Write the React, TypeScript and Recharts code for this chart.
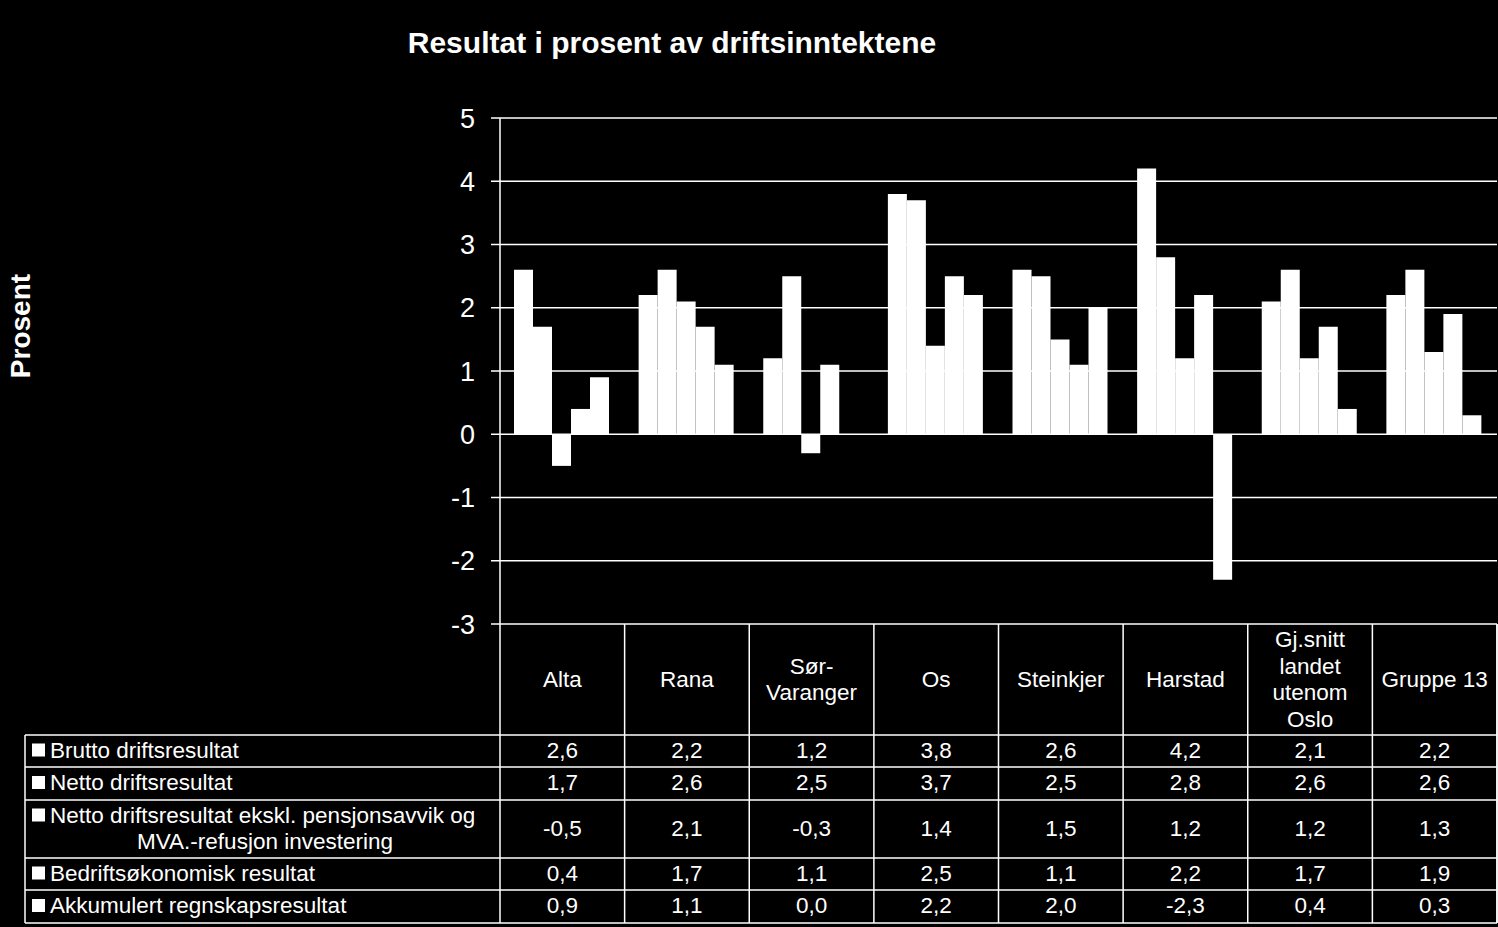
import { BarChart, Bar, XAxis, YAxis, CartesianGrid } from 'recharts';

// categories (header lines as shown in the data table)
const categories = ['Alta', 'Rana', 'Sør-Varanger', 'Os', 'Steinkjer', 'Harstad', 'Gj.snitt landet utenom Oslo', 'Gruppe 13'];
const categoryLines = [
  ['Alta'],
  ['Rana'],
  ['Sør-', 'Varanger'],
  ['Os'],
  ['Steinkjer'],
  ['Harstad'],
  ['Gj.snitt', 'landet', 'utenom', 'Oslo'],
  ['Gruppe 13'],
];

const brutto = [2.6, 2.2, 1.2, 3.8, 2.6, 4.2, 2.1, 2.2];
const netto = [1.7, 2.6, 2.5, 3.7, 2.5, 2.8, 2.6, 2.6];
const nettoEkskl = [-0.5, 2.1, -0.3, 1.4, 1.5, 1.2, 1.2, 1.3];
const bedrift = [0.4, 1.7, 1.1, 2.5, 1.1, 2.2, 1.7, 1.9];
const akkumulert = [0.9, 1.1, 0.0, 2.2, 2.0, -2.3, 0.4, 0.3];

const seriesKeys = ['brutto', 'netto', 'nettoEkskl', 'bedrift', 'akkumulert'];
const seriesNames = [
  ['Brutto driftsresultat'],
  ['Netto driftsresultat'],
  ['Netto driftsresultat ekskl. pensjonsavvik og', 'MVA.-refusjon investering'],
  ['Bedriftsøkonomisk resultat'],
  ['Akkumulert regnskapsresultat'],
];
const seriesValues = [brutto, netto, nettoEkskl, bedrift, akkumulert];

const yTicks = [-3, -2, -1, 0, 1, 2, 3, 4, 5];

const data = categories.map((name, i) => ({
  name,
  brutto: brutto[i],
  netto: netto[i],
  nettoEkskl: nettoEkskl[i],
  bedrift: bedrift[i],
  akkumulert: akkumulert[i],
}));

const W = 1498;
const H = 927;
const PLOT_LEFT = 500;
const PLOT_TOP = 118;
const PLOT_BOTTOM = 624;
const RIGHT = 1497;
const TABLE_LEFT = 25;
// data table row borders (header is PLOT_BOTTOM..rows[0])
const rowEdges = [735, 767, 800, 858, 890, 923];
const FONT = 'Arial, "Liberation Sans", sans-serif';
const TABLE_FS = 22.5;
const fmt = (v: number) => v.toFixed(1).replace('.', ',');

function fmtLabel(v: number) {
  return String(v);
}

function TableColumn(props: any) {
  const { x, index } = props;
  const colW = (RIGHT - PLOT_LEFT) / categories.length;
  const lines = categoryLines[index] || [props.payload.value];
  const headerMid = (PLOT_BOTTOM + rowEdges[0]) / 2;
  const lh = 26.5;
  const start = headerMid - ((lines.length - 1) * lh) / 2;
  return (
    <g>
      <line x1={x + colW / 2} x2={x + colW / 2} y1={PLOT_BOTTOM} y2={rowEdges[rowEdges.length - 1]} stroke="#fff" strokeWidth={1.5} />
      {lines.map((l, j) => (
        <text key={j} x={x} y={start + j * lh} textAnchor="middle" dominantBaseline="central" fill="#fff" fontSize={TABLE_FS} fontFamily={FONT}>
          {l}
        </text>
      ))}
      {seriesValues.map((vals, r) => {
        const cy = (rowEdges[r] + rowEdges[r + 1]) / 2;
        return (
          <text key={r} x={x} y={cy - 1} textAnchor="middle" dominantBaseline="central" fill="#fff" fontSize={TABLE_FS} fontFamily={FONT}>
            {fmt(vals[index])}
          </text>
        );
      })}
    </g>
  );
}

export default function App() {
  return (
    <div style={{ position: 'absolute', left: 0, top: 0, width: W, height: H, background: '#000', overflow: 'hidden' }}>
      <BarChart
        width={W}
        height={H}
        data={data}
        margin={{ top: PLOT_TOP, right: W - RIGHT, left: 0, bottom: 0 }}
        barCategoryGap={14}
        barGap={0}
      >
        <CartesianGrid horizontal vertical={false} stroke="#fff" strokeWidth={1.5} />
        <XAxis
          dataKey="name"
          height={H - PLOT_BOTTOM}
          axisLine={false}
          tickLine={false}
          interval={0}
          tick={<TableColumn />}
        />
        <YAxis
          width={PLOT_LEFT}
          domain={[-3, 5]}
          ticks={yTicks}
          interval={0}
          tickFormatter={fmtLabel}
          axisLine={{ stroke: '#fff', strokeWidth: 1.5 }}
          tickLine={{ stroke: '#fff', strokeWidth: 1.5 }}
          tickSize={9}
          tickMargin={16}
          tick={{ fill: '#fff', fontSize: 27, fontFamily: FONT }}
        />
        {seriesKeys.map((k, i) => (
          <Bar key={k} dataKey={k} name={seriesNames[i].join(' ')} fill="#fff" isAnimationActive={false} />
        ))}
      </BarChart>
      <svg width={W} height={H} style={{ position: 'absolute', left: 0, top: 0, pointerEvents: 'none' }}>
        <text x={672} y={42} textAnchor="middle" dominantBaseline="central" fill="#fff" fontSize={30} fontWeight="bold" fontFamily={FONT}>
          Resultat i prosent av driftsinntektene
        </text>
        <text
          x={20}
          y={326}
          transform="rotate(-90 20 326)"
          textAnchor="middle"
          dominantBaseline="central"
          fill="#fff"
          fontSize={28}
          fontWeight="bold"
          fontFamily={FONT}
        >
          Prosent
        </text>
        {/* y axis continues down as the table's left column border */}
        <line x1={PLOT_LEFT} x2={PLOT_LEFT} y1={PLOT_BOTTOM} y2={rowEdges[rowEdges.length - 1]} stroke="#fff" strokeWidth={1.5} />
        <line x1={RIGHT} x2={RIGHT} y1={PLOT_BOTTOM} y2={rowEdges[rowEdges.length - 1]} stroke="#fff" strokeWidth={1.5} />
        <line x1={TABLE_LEFT} x2={TABLE_LEFT} y1={rowEdges[0]} y2={rowEdges[rowEdges.length - 1]} stroke="#fff" strokeWidth={1.5} />
        {rowEdges.map((y, i) => (
          <line key={i} x1={TABLE_LEFT} x2={RIGHT} y1={y} y2={y} stroke="#fff" strokeWidth={1.5} />
        ))}
        {seriesNames.map((lines, r) => {
          const top = rowEdges[r];
          const bottom = rowEdges[r + 1];
          const lh = 26;
          const mid = (top + bottom) / 2 - 1;
          const start = mid - ((lines.length - 1) * lh) / 2;
          return (
            <g key={r}>
              <rect x={32} y={start - 6.5} width={13} height={13} fill="#fff" />
              {lines.map((l, j) => (
                <text
                  key={j}
                  x={j === 0 ? 50 : 265}
                  y={start + j * lh}
                  textAnchor={j === 0 ? 'start' : 'middle'}
                  dominantBaseline="central"
                  fill="#fff"
                  fontSize={TABLE_FS}
                  fontFamily={FONT}
                >
                  {l}
                </text>
              ))}
            </g>
          );
        })}
      </svg>
    </div>
  );
}
